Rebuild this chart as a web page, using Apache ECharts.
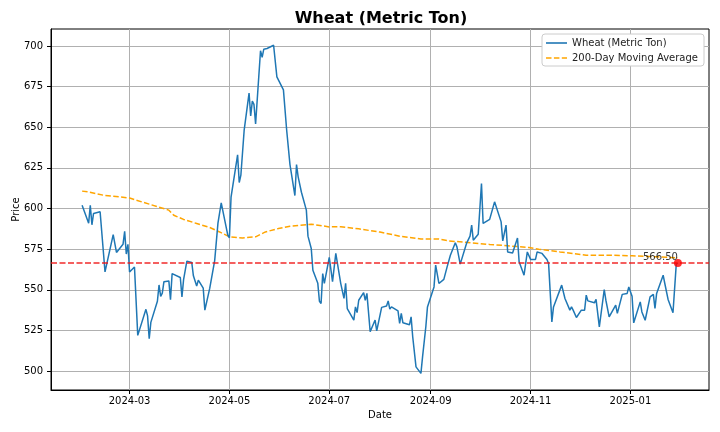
<!DOCTYPE html>
<html>
<head>
<meta charset="utf-8">
<script src="https://cdn.jsdelivr.net/npm/echarts@6/dist/echarts.min.js"></script>
<style>html,body{margin:0;padding:0;background:#fff}#c{width:720px;height:432px}</style>
</head>
<body>
<div id="c"></div>
<script>
const titleText = 'Wheat (Metric Ton)';
const seriesName = 'Wheat (Metric Ton)';
const maName = '200-Day Moving Average';
const xTickLabels = ['2024-03-01','2024-05-01','2024-07-01','2024-09-01','2024-11-01','2025-01-01'];
const yTickLabels = [500,525,550,575,600,625,650,675,700];

const wheatDates = [
'2024-02-01','2024-02-05','2024-02-06','2024-02-07','2024-02-08','2024-02-12','2024-02-15','2024-02-20','2024-02-21','2024-02-22',
'2024-02-26','2024-02-27','2024-02-28','2024-02-29','2024-03-01','2024-03-04','2024-03-06','2024-03-07','2024-03-11','2024-03-12',
'2024-03-13','2024-03-14','2024-03-18','2024-03-19','2024-03-20','2024-03-21','2024-03-22','2024-03-25','2024-03-26','2024-03-27',
'2024-04-01','2024-04-02','2024-04-03','2024-04-04','2024-04-05','2024-04-08','2024-04-09','2024-04-10','2024-04-11','2024-04-12',
'2024-04-15','2024-04-16','2024-04-17','2024-04-19','2024-04-22','2024-04-24','2024-04-26','2024-04-30','2024-05-01','2024-05-02',
'2024-05-06','2024-05-07','2024-05-08','2024-05-10','2024-05-13','2024-05-14','2024-05-15','2024-05-16','2024-05-17','2024-05-20',
'2024-05-21','2024-05-22','2024-05-24','2024-05-28','2024-05-30','2024-06-03','2024-06-05','2024-06-07','2024-06-10','2024-06-11',
'2024-06-12','2024-06-13','2024-06-14','2024-06-17','2024-06-18','2024-06-20','2024-06-21','2024-06-24','2024-06-25','2024-06-26',
'2024-06-27','2024-06-28','2024-07-01','2024-07-03','2024-07-05','2024-07-08','2024-07-09','2024-07-10','2024-07-11','2024-07-12',
'2024-07-16','2024-07-17','2024-07-18','2024-07-19','2024-07-22','2024-07-23','2024-07-24','2024-07-26','2024-07-29','2024-07-30',
'2024-08-02','2024-08-05','2024-08-06','2024-08-07','2024-08-08','2024-08-12','2024-08-13','2024-08-14','2024-08-15','2024-08-16',
'2024-08-19','2024-08-20','2024-08-21','2024-08-23','2024-08-26','2024-08-27','2024-08-29','2024-08-30','2024-09-03','2024-09-04',
'2024-09-06','2024-09-09','2024-09-11','2024-09-12','2024-09-13','2024-09-16','2024-09-17','2024-09-19','2024-09-23','2024-09-24',
'2024-09-25','2024-09-26','2024-09-27','2024-09-30','2024-10-02','2024-10-03','2024-10-07','2024-10-10','2024-10-14','2024-10-15',
'2024-10-17','2024-10-18','2024-10-21','2024-10-24','2024-10-25','2024-10-28','2024-10-30','2024-11-01','2024-11-04','2024-11-05',
'2024-11-08','2024-11-11','2024-11-12','2024-11-14','2024-11-15','2024-11-20','2024-11-22','2024-11-25','2024-11-26','2024-11-27',
'2024-11-29','2024-12-02','2024-12-04','2024-12-05','2024-12-06','2024-12-10','2024-12-11','2024-12-13','2024-12-16','2024-12-17',
'2024-12-19','2024-12-20','2024-12-23','2024-12-24','2024-12-27','2024-12-30','2024-12-31','2025-01-02','2025-01-03','2025-01-07',
'2025-01-08','2025-01-10','2025-01-13','2025-01-15','2025-01-16','2025-01-17','2025-01-21','2025-01-22','2025-01-23','2025-01-24',
'2025-01-27','2025-01-29','2025-01-30'
];
const wheatPrices = [
602,591,602,590,597,598,561,584,584,573,
578,586,572,578,561,564,522,521,538,534,
520,530,543,553,546,548,555,555.5,544,560,
557.6,545.7,556.3,557,567.6,566.8,558.6,558.6,552.3,556,
551,537.5,537,551,568,591,603.5,583.6,582,607,
633,616,620.5,648,671,657,666,664,652,697,
693,698,698.4,700.4,681,673,648,627,608,627,
619.5,620.5,610,599,583,575.4,562,554,543,541.6,
560,554,570,555,572.4,554,555,544.7,554,538.5,
531.4,539.5,536,543.6,548.3,543.6,547.8,524.2,531.4,524.8,
539.2,540,543.2,538.1,539.5,537,529.3,535.5,529.7,529,
528.5,533.4,521,502.6,498.6,508.8,527.3,539.5,551.8,565.2,
553.9,556.4,564.1,563.7,571.3,578.9,576.4,565.8,578.9,580,
583,589.8,580.5,584.2,615.4,590.8,593.3,604.1,591.8,580.1,
589.8,573.3,572.7,581.9,567.2,559,573.3,568.7,568.7,573.3,
572.4,568.7,566.2,530.3,539.5,552.9,544.7,537.5,539.5,537.5,
533,537.5,537.5,546.7,543.2,542,544.1,527.2,550.2,543.6,
533.4,533.8,540.6,535.5,547.2,547.8,551.8,546.1,529.7,542.6,
536.4,531.3,545.7,547.2,538.5,547.8,559,553.9,553.9,544.1,
535.9,565.8,566.5
];

const maDates = [
'2024-02-01','2024-02-05','2024-02-14','2024-03-01','2024-03-05','2024-03-13','2024-03-25','2024-03-28','2024-04-03','2024-04-11',
'2024-04-19','2024-04-25','2024-05-01','2024-05-09','2024-05-17','2024-05-23','2024-05-31','2024-06-07','2024-06-20','2024-07-01',
'2024-07-08','2024-07-19','2024-08-01','2024-08-13','2024-08-26','2024-09-06','2024-09-12','2024-09-26','2024-10-07','2024-10-18',
'2024-10-31','2024-11-06','2024-11-19','2024-12-05','2024-12-19','2025-01-02','2025-01-17','2025-01-30'
];
const maValues = [
610.7,610.2,608.2,606.5,605.1,602.7,599,595.9,593.3,590.8,
588.3,585.6,582.6,581.9,582.6,585.6,587.7,589.1,590.4,588.7,
588.8,587.5,585.5,583,581.3,581.2,580.1,578.9,577.9,577.1,
576,575,573.3,571.3,571.3,570.9,570.3,569.7
];

const axisXMin = '2024-01-13';
const axisXMax = '2025-02-18';
const axisYMin = 488.4;
const axisYMax = 710.4;

function ts(s){ const p = s.split('-').map(Number); return new Date(p[0], p[1]-1, p[2]).getTime(); }
function pad(n){ return n < 10 ? '0' + n : '' + n; }

const lastDate = wheatDates[wheatDates.length - 1];
const lastPrice = wheatPrices[wheatPrices.length - 1];

const FONT = 'DejaVu Sans';
const solidIcon = 'path://M0,4.2h21v1.6h-21z';
const dashIcon = 'path://M0,4.2h5.5v1.6h-5.5zM7.9,4.2h5.5v1.6h-5.5zM15.8,4.2h5.2v1.6h-5.2z';
const chart = echarts.init(document.getElementById('c'), null, {renderer: 'canvas'});
chart.setOption({
  animation: false,
  backgroundColor: '#fff',
  textStyle: {fontFamily: FONT},
  title: {
    text: titleText, left: 376, top: 6, textAlign: 'center',
    textStyle: {fontFamily: FONT, fontSize: 16, fontWeight: 'bold', color: '#000'}
  },
  legend: {
    orient: 'vertical', right: 16, top: 34,
    backgroundColor: '#fff', borderColor: '#cccccc', borderWidth: 1, borderRadius: 3,
    padding: [4, 6, 3, 4], itemGap: 5, itemWidth: 21, itemHeight: 10,
    textStyle: {fontFamily: FONT, fontSize: 10, color: '#222'},
    data: [{name: seriesName, icon: solidIcon}, {name: maName, icon: dashIcon}]
  },
  grid: {left: 51, right: 11, top: 29, bottom: 42, containLabel: false, outerBoundsMode: 'none',
         show: true, borderColor: '#000', borderWidth: 1, backgroundColor: 'transparent'},
  xAxis: {
    type: 'value', min: ts(axisXMin), max: ts(axisXMax),
    name: 'Date', nameLocation: 'middle', nameGap: 20, nameMoveOverlap: false,
    nameTextStyle: {fontFamily: FONT, fontSize: 10, color: '#000'},
    axisLine: {show: true, lineStyle: {color: '#000', width: 1}},
    axisTick: {show: true, length: 4, lineStyle: {color: '#000'}, customValues: xTickLabels.map(ts)},
    axisLabel: {
      customValues: xTickLabels.map(ts), margin: 6, fontFamily: FONT, fontSize: 10, color: '#000',
      formatter: function (v) { const d = new Date(v); return d.getFullYear() + '-' + pad(d.getMonth() + 1); }
    },
    splitLine: {show: true, lineStyle: {color: '#b0b0b0', width: 1}}
  },
  yAxis: {
    type: 'value', min: axisYMin, max: axisYMax,
    name: 'Price', nameLocation: 'middle', nameGap: 30, nameRotate: 90, nameMoveOverlap: false,
    nameTextStyle: {fontFamily: FONT, fontSize: 10, color: '#000'},
    axisLine: {show: true, lineStyle: {color: '#000', width: 1}},
    axisTick: {show: true, length: 4, lineStyle: {color: '#000'}, customValues: yTickLabels},
    axisLabel: {customValues: yTickLabels, margin: 8, fontFamily: FONT, fontSize: 10, color: '#000'},
    splitLine: {show: true, lineStyle: {color: '#b0b0b0', width: 1}}
  },
  series: [
    {
      name: seriesName, type: 'line', symbol: 'none', z: 3,
      data: wheatDates.map((d, i) => [ts(d), wheatPrices[i]]),
      lineStyle: {color: '#1f77b4', width: 1.5}, itemStyle: {color: '#1f77b4'},
      markLine: {
        silent: true, symbol: 'none', label: {show: false},
        lineStyle: {color: 'rgba(240,20,20,0.9)', type: [6, 2.5], width: 1.5},
        data: [{yAxis: lastPrice}]
      }
    },
    {
      name: maName, type: 'line', symbol: 'none', z: 2,
      data: maDates.map((d, i) => [ts(d), maValues[i]]),
      lineStyle: {color: '#ffa500', width: 1.5, type: [5.5, 2.4]}, itemStyle: {color: '#ffa500'}
    },
    {
      name: 'last', type: 'scatter', symbolSize: 8, z: 5,
      data: [[ts(lastDate), lastPrice]],
      itemStyle: {color: '#ff0000'},
      label: {
        show: true, position: [4, 3], align: 'right', verticalAlign: 'bottom',
        formatter: function () { return lastPrice.toFixed(2); },
        fontFamily: FONT, fontSize: 10, color: '#000'
      }
    }
  ]
});
</script>
</body>
</html>
